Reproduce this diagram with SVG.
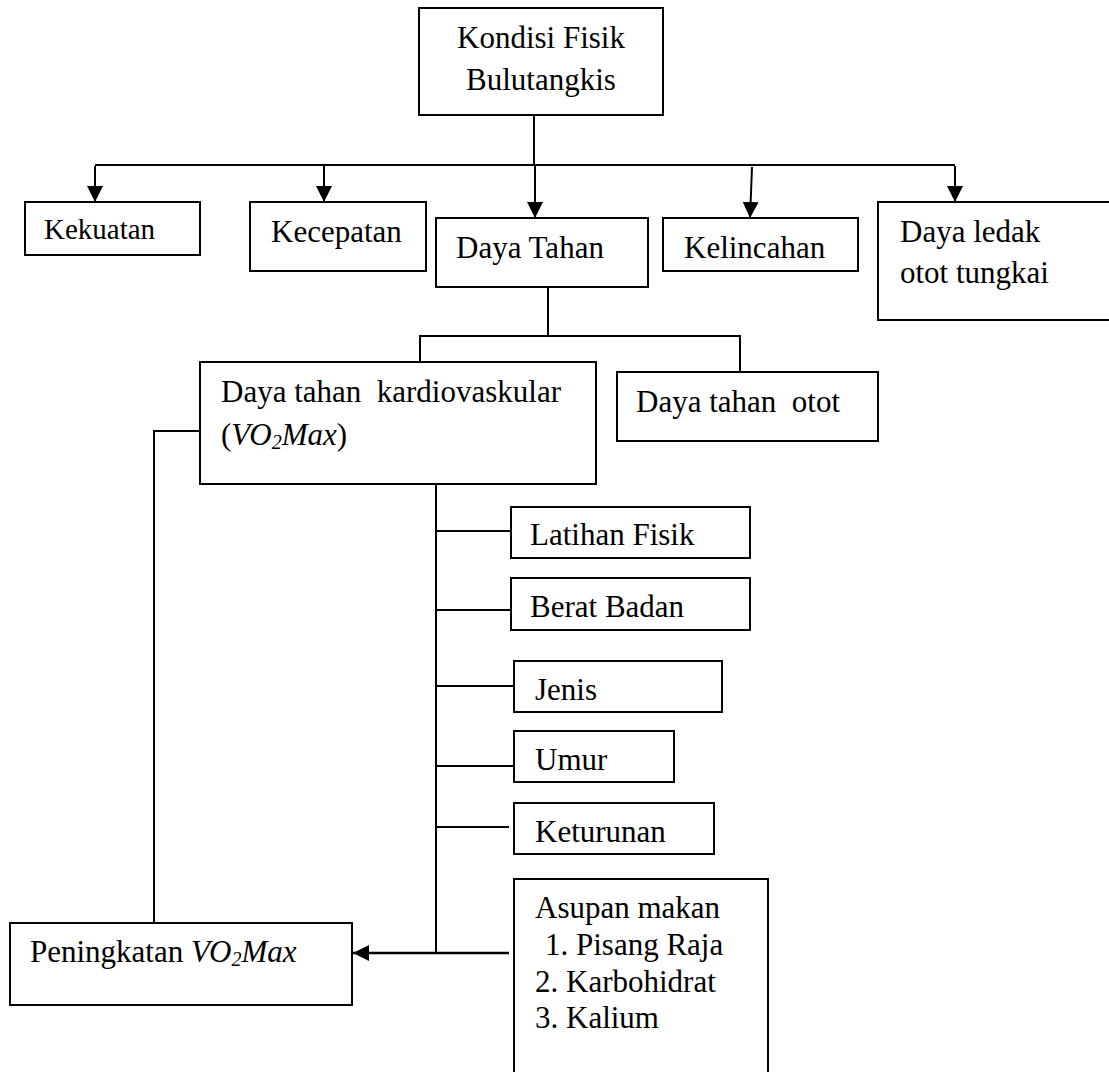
<svg xmlns="http://www.w3.org/2000/svg" width="1109" height="1072" viewBox="0 0 1109 1072">
<style>
.box{fill:#fff;stroke:#000;stroke-width:2}
.t{font-family:"Liberation Serif","Times New Roman",serif;font-size:31px;fill:#000}
.i{font-style:italic}
.ln{fill:none;stroke:#000;stroke-width:2}
.ar{fill:none;stroke:#000;stroke-width:2;marker-end:url(#ah)}
</style>
<defs>
<marker id="ah" markerUnits="userSpaceOnUse" markerWidth="16" markerHeight="16" refX="16" refY="8" orient="auto">
<path d="M0,0 L16,8 L0,16 z" fill="#000"/>
</marker>
</defs>
<rect width="1109" height="1072" fill="#fff"/>
<g id="connectors">
<line class="ln" x1="534" y1="115" x2="534" y2="166"/>
<line class="ln" x1="95" y1="165" x2="955" y2="165"/>
<line class="ar" x1="95" y1="166" x2="95" y2="202"/>
<line class="ar" x1="324" y1="166" x2="324" y2="202"/>
<line class="ar" x1="535" y1="166" x2="535" y2="218"/>
<line class="ar" x1="752" y1="167" x2="750" y2="218"/>
<line class="ar" x1="955" y1="166" x2="955" y2="202"/>
<line class="ln" x1="548" y1="287" x2="548" y2="336"/>
<polyline class="ln" points="420,362 420,336 740,336 740,372"/>
<polyline class="ln" points="200,431 154,431 154,923"/>
<line class="ln" x1="436" y1="484" x2="436" y2="953"/>
<line class="ln" x1="436" y1="531" x2="511" y2="531"/>
<line class="ln" x1="436" y1="610" x2="511" y2="610"/>
<line class="ln" x1="436" y1="686" x2="514" y2="686"/>
<line class="ln" x1="436" y1="766" x2="514" y2="766"/>
<line class="ln" x1="436" y1="827" x2="509" y2="827"/>
<line class="ar" x1="509" y1="953" x2="353" y2="953" style="stroke-width:2.5"/>
</g>
<g id="n-kondisi">
<rect class="box" x="419" y="8" width="244" height="107"/>
<text class="t" x="541" y="48" text-anchor="middle">Kondisi Fisik</text>
<text class="t" x="541" y="90" text-anchor="middle">Bulutangkis</text>
</g>
<g id="n-kekuatan">
<rect class="box" x="25" y="202" width="175" height="53"/>
<text class="t" x="44" y="239" style="font-size:29px">Kekuatan</text>
</g>
<g id="n-kecepatan">
<rect class="box" x="250" y="202" width="176" height="69"/>
<text class="t" x="271" y="242">Kecepatan</text>
</g>
<g id="n-dayatahan">
<rect class="box" x="436" y="218" width="212" height="69"/>
<text class="t" x="456" y="258">Daya Tahan</text>
</g>
<g id="n-kelincahan">
<rect class="box" x="663" y="218" width="195" height="53"/>
<text class="t" x="684" y="258">Kelincahan</text>
</g>
<g id="n-dayaledak">
<rect class="box" x="878" y="202" width="240" height="118"/>
<text class="t" x="900" y="242">Daya ledak</text>
<text class="t" x="900" y="283">otot tungkai</text>
</g>
<g id="n-kardio">
<rect class="box" x="200" y="362" width="396" height="122"/>
<text class="t" x="221" y="402" xml:space="preserve">Daya tahan  kardiovaskular</text>
<text class="t" x="221" y="445">(<tspan class="i">VO</tspan><tspan class="i" style="font-size:20px" dy="4">2</tspan><tspan class="i" dy="-4">Max</tspan>)</text>
</g>
<g id="n-otot">
<rect class="box" x="617" y="372" width="261" height="69"/>
<text class="t" x="636" y="412" xml:space="preserve">Daya tahan  otot</text>
</g>
<g id="n-latihan">
<rect class="box" x="511" y="507" width="239" height="51"/>
<text class="t" x="530" y="545">Latihan Fisik</text>
</g>
<g id="n-berat">
<rect class="box" x="511" y="578" width="239" height="52"/>
<text class="t" x="530" y="617">Berat Badan</text>
</g>
<g id="n-jenis">
<rect class="box" x="514" y="661" width="208" height="51"/>
<text class="t" x="535" y="700">Jenis</text>
</g>
<g id="n-umur">
<rect class="box" x="514" y="731" width="160" height="51"/>
<text class="t" x="535" y="770">Umur</text>
</g>
<g id="n-keturunan">
<rect class="box" x="514" y="803" width="200" height="51"/>
<text class="t" x="535" y="842">Keturunan</text>
</g>
<g id="n-asupan">
<rect class="box" x="514" y="879" width="254" height="200"/>
<text class="t" x="535" y="918">Asupan makan</text>
<text class="t" x="545" y="955">1. Pisang Raja</text>
<text class="t" x="535" y="992">2. Karbohidrat</text>
<text class="t" x="535" y="1028">3. Kalium</text>
</g>
<g id="n-peningkatan">
<rect class="box" x="10" y="923" width="342" height="82"/>
<text class="t" x="30" y="962">Peningkatan <tspan class="i">VO</tspan><tspan class="i" style="font-size:20px" dy="4">2</tspan><tspan class="i" dy="-4">Max</tspan></text>
</g>
</svg>
